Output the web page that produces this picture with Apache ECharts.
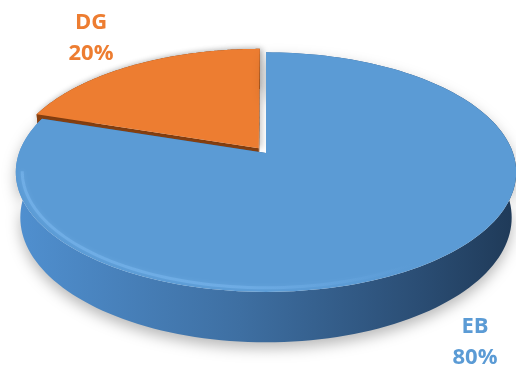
<!DOCTYPE html>
<html>
<head>
<meta charset="utf-8">
<script src="https://cdn.jsdelivr.net/npm/echarts@6/dist/echarts.min.js"></script>
<style>
  html, body { margin: 0; padding: 0; background: #ffffff; }
  #chart { width: 516px; height: 369px; }
</style>
</head>
<body>
<div id="chart"></div>
<script>
// Share of each category
const categories = ['EB', 'DG'];
const values = [80, 20];

const topColors = { EB: '#5B9BD5', DG: '#ED7D31' };
const labelColors = { EB: '#5B9BD5', DG: '#ED7D31' };
const explodeBy = { EB: 0, DG: 0.05 };

const total = values.reduce((a, b) => a + b, 0);

// Perspective projection of a tilted disk (unit radius) onto the canvas
const VIEW = { cx: 266, cy: 153, A: 247, tilt: 28.2 * Math.PI / 180, dist: 5.52, height: 0.21 };

function project(X, Y, Z) {
  const st = Math.sin(VIEW.tilt), ct = Math.cos(VIEW.tilt);
  const u = Y * st + Z * ct;
  const w = Y * ct - Z * st;
  const s = VIEW.dist / (VIEW.dist + w);
  return [VIEW.cx + VIEW.A * X * s, VIEW.cy - VIEW.A * u * s];
}

function renderSlice(params, api) {
  const i = params.dataIndex;
  const v = api.value(1);
  const name = categories[i];
  let before = 0;
  for (let k = 0; k < i; k++) before += values[k];
  const a0 = (90 - before / total * 360) * Math.PI / 180;
  const a1 = a0 - (v / total * 360) * Math.PI / 180;
  const mid = (a0 + a1) / 2;
  const e = explodeBy[name];
  const ox = e * Math.cos(mid), oy = e * Math.sin(mid);
  const H = VIEW.height;

  const steps = 160;
  const topArc = [], botArc = [], innerArc = [];
  for (let k = 0; k <= steps; k++) {
    const a = a0 + (a1 - a0) * k / steps;
    const X = ox + Math.cos(a), Y = oy + Math.sin(a);
    topArc.push(project(X, Y, 0));
    botArc.push(project(X, Y, -H));
    innerArc.push({ a: a, p: project(ox + 0.975 * Math.cos(a), oy + 0.975 * Math.sin(a), 0) });
  }
  const cTop = project(ox, oy, 0);
  const cBot = project(ox, oy, -H);

  const base = Math.round(-Math.sin(mid) * 10) * 10;
  const isBlue = name === 'EB';

  const wallFill = isBlue
    ? new echarts.graphic.LinearGradient(15, 0, 515, 0, [
        { offset: 0, color: '#5090D0' },
        { offset: 0.45, color: '#3E6FA2' },
        { offset: 0.8, color: '#2B4E75' },
        { offset: 1, color: '#1F3A58' }
      ], true)
    : '#8E4514';

  const children = [];
  // outer rim
  children.push({
    type: 'polygon',
    z2: base + 1,
    shape: { points: topArc.concat(botArc.slice().reverse()) },
    style: {
      fill: wallFill,
      shadowBlur: isBlue ? 14 : 6,
      shadowOffsetY: isBlue ? 6 : 0,
      shadowColor: isBlue ? 'rgba(0,0,0,0.28)' : 'rgba(0,0,0,0.2)'
    }
  });
  // radial walls
  [[topArc[0], botArc[0]], [topArc[steps], botArc[steps]]].forEach(function (edge) {
    children.push({
      type: 'polygon',
      z2: base + 2,
      shape: { points: [cTop, edge[0], edge[1], cBot] },
      style: { fill: isBlue ? '#2F5A87' : '#8A4212' }
    });
  });
  // top face
  children.push({
    type: 'polygon',
    z2: base + 3,
    shape: { points: [cTop].concat(topArc) },
    style: {
      fill: topColors[name],
      shadowBlur: isBlue ? 0 : 6,
      shadowOffsetX: isBlue ? 0 : 3,
      shadowColor: 'rgba(0,0,0,0.22)'
    }
  });
  // soft bevel highlight just inside the front edge of the top face
  if (isBlue) {
    const front = innerArc
      .filter(function (q) { return Math.sin(q.a) < -0.15; })
      .map(function (q) { return q.p; });
    children.push({
      type: 'polyline',
      z2: base + 4,
      shape: { points: front },
      style: {
        fill: null,
        lineWidth: 3,
        stroke: new echarts.graphic.LinearGradient(15, 0, 515, 0, [
          { offset: 0, color: 'rgba(130,190,245,0.45)' },
          { offset: 0.45, color: 'rgba(130,190,245,0.4)' },
          { offset: 0.8, color: 'rgba(120,180,240,0.0)' }
        ], true),
        shadowBlur: 4,
        shadowColor: 'rgba(140,200,250,0.5)'
      }
    });
  }
  return { type: 'group', children: children };
}

const chart = echarts.init(document.getElementById('chart'), null, { renderer: 'canvas' });

const labelAnchors = { DG: [91, 38], EB: [475, 342] };

chart.setOption({
  animation: false,
  backgroundColor: '#ffffff',
  series: [{
    type: 'custom',
    coordinateSystem: 'none',
    renderItem: renderSlice,
    data: categories.map(function (c, i) { return { name: c, value: [i, values[i]] }; })
  }],
  graphic: categories.map(function (c, i) {
    return {
      type: 'text',
      x: labelAnchors[c][0],
      y: labelAnchors[c][1],
      z: 10,
      style: {
        text: c + '\n' + Math.round(values[i] / total * 100) + '%',
        fill: labelColors[c],
        font: 'bold 22px "Open Sans"',
        lineHeight: 31,
        align: 'center',
        verticalAlign: 'middle'
      }
    };
  })
});
</script>
</body>
</html>
